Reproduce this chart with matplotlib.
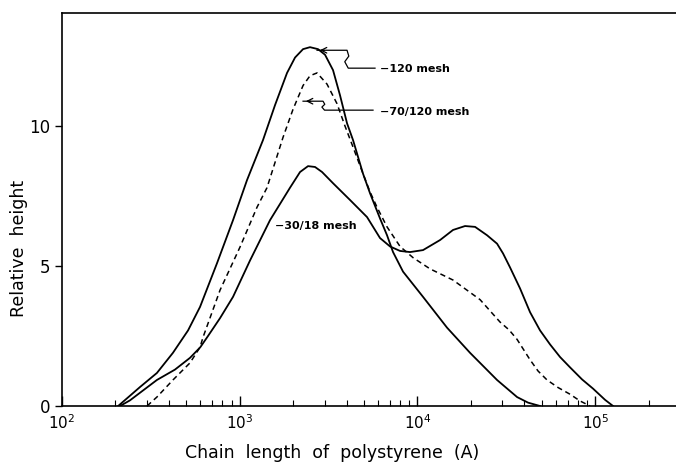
import matplotlib
matplotlib.use('Agg')
import matplotlib.pyplot as plt
from matplotlib.ticker import LogLocator, NullFormatter

# chain length (A) and relative height
mesh120_x = [207, 275, 342, 421, 512, 598, 745, 917, 1099, 1352, 1580, 1846, 2048,
             2272, 2486, 2758, 3020, 3350, 3668, 4017, 4342, 4941, 5411, 6159,
             6744, 7289, 8299, 10750, 14670, 19770, 28050, 36360, 41930, 48970]
mesh120_y = [0, 0.68, 1.18, 1.9, 2.7, 3.54, 5.1, 6.64, 8.07, 9.5, 10.75, 11.9, 12.45,
             12.75, 12.82, 12.75, 12.55, 12.0, 11.1, 10.1, 9.5, 8.3, 7.6, 6.7,
             6.1, 5.5, 4.8, 3.9, 2.8, 1.9, 0.93, 0.32, 0.12, 0]

mesh70_120_x = [301, 342, 421, 525, 598, 622, 775, 1004, 1251, 1424, 1753, 1995,
                2272, 2486, 2723, 3099, 3528, 3913, 4342, 4941, 5411, 5925, 6744,
                7983, 9447, 11770, 15860, 22510, 29160, 32770, 36360, 43030, 47720,
                53620, 61840, 72240, 82220, 93610]
mesh70_120_y = [0, 0.32, 0.93, 1.54, 2.1, 2.46, 4.14, 5.68, 7.1, 7.8, 9.6, 10.6,
                11.45, 11.8, 11.9, 11.5, 10.8, 10.0, 9.25, 8.3, 7.65, 7.1, 6.4,
                5.7, 5.3, 4.9, 4.5, 3.8, 3.0, 2.72, 2.38, 1.65, 1.25,
                0.93, 0.66, 0.42, 0.18, 0]

mesh30_18_x = [212, 241, 342, 432, 525, 600, 663, 775, 917, 1143, 1481, 1919, 2185,
               2423, 2653, 2906, 3350, 4176, 5205, 6159, 7013, 7983, 9087, 10750,
               13410, 15860, 18530, 21100, 24650, 28050, 30320, 33200, 37790, 43030,
               48970, 55750, 63460, 72240, 84390, 97320, 113700, 126100]
mesh30_18_y = [0, 0.2, 0.93, 1.3, 1.72, 2.1, 2.5, 3.14, 3.9, 5.2, 6.64, 7.8, 8.36,
               8.57, 8.54, 8.36, 7.96, 7.36, 6.75, 6.0, 5.7, 5.54, 5.5, 5.57,
               5.93, 6.29, 6.43, 6.4, 6.1, 5.8, 5.45, 4.95, 4.2, 3.35,
               2.7, 2.2, 1.75, 1.38, 0.95, 0.62, 0.22, 0]

fig = plt.figure(figsize=(6.76, 4.67), dpi=100)
ax = fig.add_axes([0.0917, 0.1306, 0.9083, 0.8415])

ax.plot(mesh120_x, mesh120_y, color='black', lw=1.3)
ax.plot(mesh70_120_x, mesh70_120_y, color='black', lw=1.1, dashes=(3.5, 2.5))
ax.plot(mesh30_18_x, mesh30_18_y, color='black', lw=1.3)

ax.set_xscale('log')
ax.set_xlim(100, 285000)
ax.set_ylim(0, 14.04)
ax.set_yticks([0, 5, 10])
ax.xaxis.set_minor_locator(LogLocator(base=10, subs=range(2, 10)))
ax.xaxis.set_minor_formatter(NullFormatter())
ax.tick_params(axis='x', which='major', direction='in', length=7, width=1, labelsize=11, pad=5)
ax.tick_params(axis='x', which='minor', direction='in', length=4, width=0.8)
ax.tick_params(axis='y', which='major', direction='out', length=5, width=1, labelsize=12)
ax.spines['right'].set_visible(False)
for s in ['left', 'bottom', 'top']:
    ax.spines[s].set_linewidth(1.2)

ax.set_xlabel('Chain  length  of  polystyrene  (A)', fontsize=12.5)
ax.xaxis.set_label_coords(0.44, -0.097)
ax.set_ylabel('Relative  height', fontsize=12.5)
ax.yaxis.set_label_coords(-0.055, 0.40)

# leader lines with arrows
ax.plot([2723, 4017, 4110, 3900, 4080, 5772], [12.71, 12.71, 12.5, 12.3, 12.07, 12.07],
        color='black', lw=0.9)
ax.annotate('', xy=(2723, 12.71), xytext=(3100, 12.71),
            arrowprops=dict(arrowstyle='->', lw=0.9, color='black'))
ax.text(6159, 12.05, '\u2212120 mesh', fontsize=8, fontweight='bold', va='center')

ax.plot([2272, 2943, 3010, 2900, 3000, 5624], [10.89, 10.89, 10.78, 10.68, 10.57, 10.57],
        color='black', lw=0.9)
ax.annotate('', xy=(2272, 10.89), xytext=(2600, 10.89),
            arrowprops=dict(arrowstyle='->', lw=0.9, color='black'))
ax.text(6159, 10.5, '\u221270/120 mesh', fontsize=8, fontweight='bold', va='center')

ax.text(1580, 6.43, '\u221230/18 mesh', fontsize=8, fontweight='bold', va='center')

fig.savefig('out.png', dpi=100)
